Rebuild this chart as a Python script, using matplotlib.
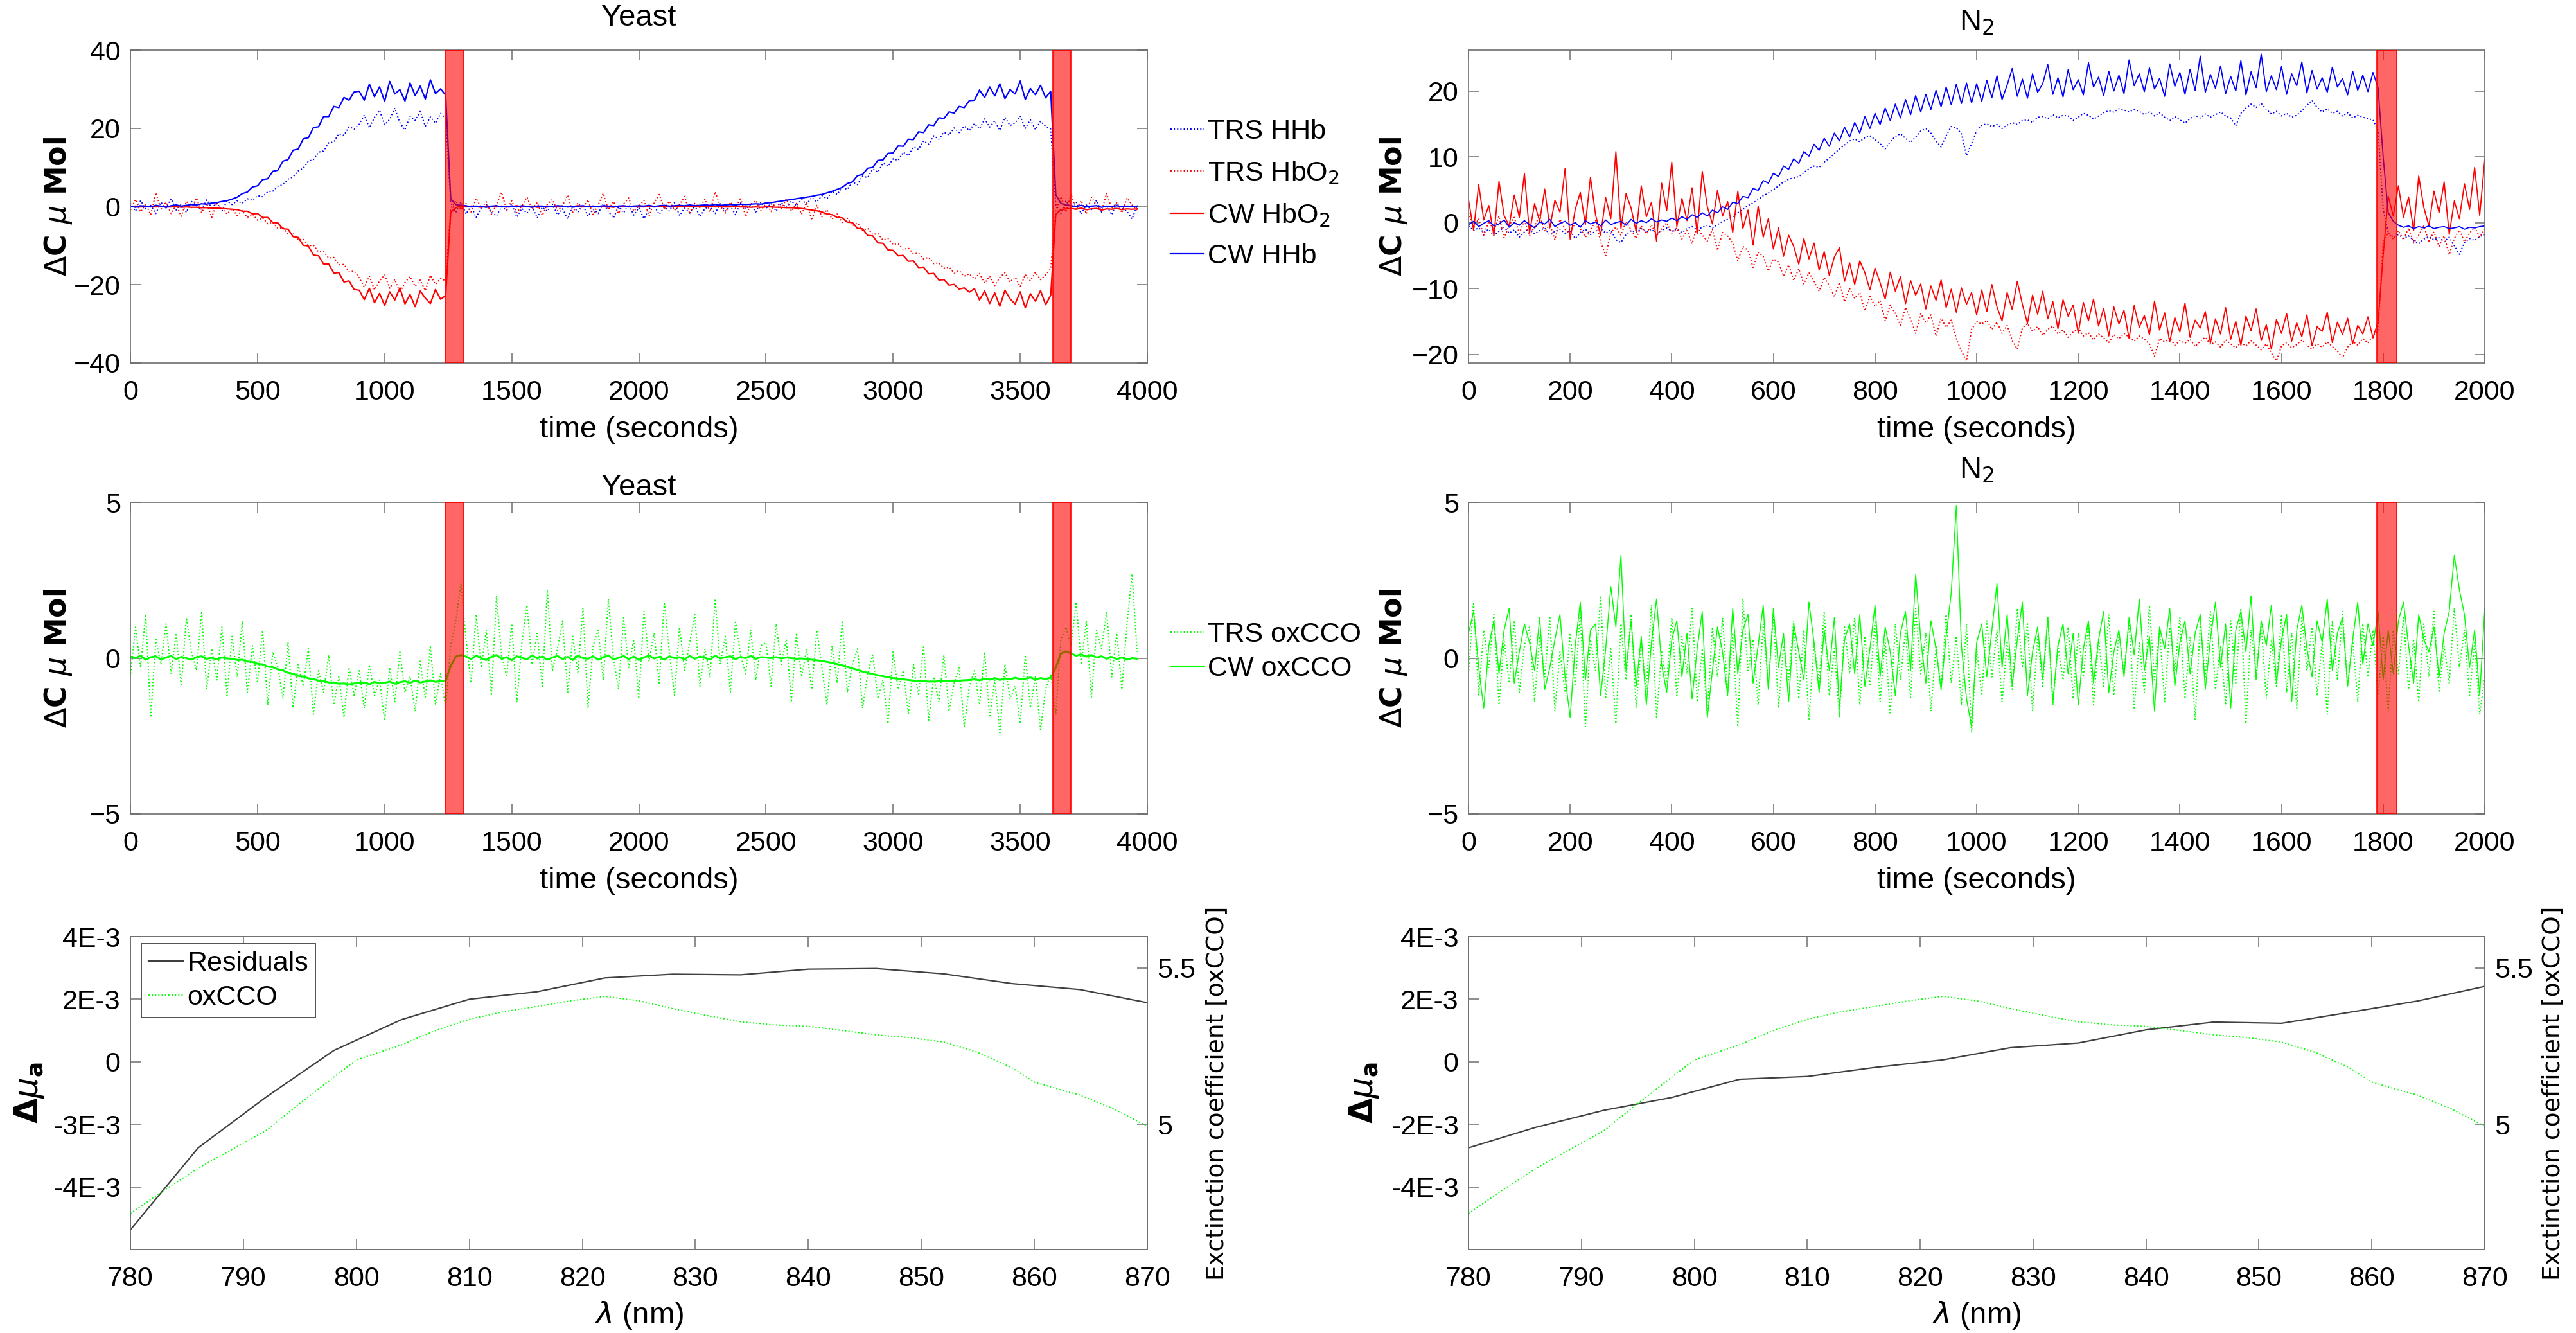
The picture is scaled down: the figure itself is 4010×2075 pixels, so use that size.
import numpy as np
import matplotlib
matplotlib.use("Agg")
import matplotlib.pyplot as plt

plt.rcParams['font.family'] = ['Liberation Sans', 'DejaVu Sans']
plt.rcParams['mathtext.fontset'] = 'dejavusans'

# ---------------- DATA ----------------
# Segments: (start time, values) ; sampling step given per panel
YEAST_DT = 20
YEAST_CW_HHB = [
    (0, [0.1,-0.2,0.2,0.0,-0.1,0.3,0.1,-0.2,0.2,0.4,0.1,0.3,0.5,0.4,0.7,0.6,0.9,1.0,1.3,1.5]),
    (400, [1.9,2.4,3.3,3.7,5.0,5.3,6.9,7.1,9.0,9.3,11.6,12.0,14.4,14.7,17.3,17.6,20.2,20.4,23.0,23.0,25.6,25.3,27.9,27.2,29.3]),
    (900, [29.5,27.2,31.3,28.1,30.6,26.9,32.0,28.8,29.9,27.0,31.6,28.4,30.8,27.5,32.4,28.9,30.1]),
    (1240, [28.5,2.0,0.5,0.3]),
    (1320, [0.2,-0.1,0.1,0.0,-0.2,0.1,0.2,-0.1,0.0,0.1,-0.1,0.2,0.0,-0.2,0.1,0.1,-0.1,0.0,0.2,0.1,-0.1,0.0,0.1,0.2,-0.1,0.1,0.0,0.2,0.1,-0.1,0.1,0.2,0.0,0.1,0.2,0.1,0.3,0.0,0.2,0.3,0.1,0.2,0.3,0.2,0.4,0.2,0.3,0.4,0.3,0.5,0.3,0.4,0.5,0.4,0.6,0.5,0.6,0.7,0.6]),
    (2500, [0.9,1.0,1.2,1.4,1.6,1.8,2.0,2.2,2.4,2.6,2.9,3.1,3.5,3.9,4.4,4.9,5.9,6.3,7.9,8.2,9.8,10.0,11.8,11.9,13.6,13.7,15.5,15.4,17.2,17.1,19.1,18.9,20.9,20.7,22.7,22.5,24.2,23.9,25.6,25.3,27.1]),
    (3320, [27.2,29.8,27.9,30.6,28.3,31.4,27.6,29.9,28.8,32.1,27.4,30.2,28.6,31.0,27.8,29.5]),
    (3640, [3.0,0.8,0.4]),
    (3700, [0.2,0.0,0.3,-0.1,0.1,0.2,-0.2,0.1,0.0,0.2,-0.1,0.1,0.0,0.1]),
]
YEAST_CW_HBO2 = [
    (0, [0.0,0.1,-0.1,0.0,0.1,-0.1,0.0,-0.1,-0.1,0.0,-0.2,-0.1,-0.2,-0.2,-0.3,-0.3,-0.4,-0.4,-0.5,-0.6]),
    (400, [-0.7,-0.8,-1.2,-1.2,-1.9,-1.8,-2.8,-2.8,-4.1,-4.2,-5.7,-5.8,-7.7,-7.9,-9.9,-10.1,-12.4,-12.6,-14.7,-14.7,-17.0,-16.9,-19.3,-19.0,-21.2]),
    (900, [-21.4,-23.8,-20.9,-24.6,-22.2,-25.3,-21.8,-23.9,-20.8,-24.9,-22.5,-25.6,-21.6,-23.4,-24.8,-21.2,-23.7]),
    (1240, [-22.8,-1.5,-0.3,0.1]),
    (1320, [-0.1,0.1,0.0,-0.2,0.1,0.0,-0.1,0.1,-0.1,0.0,0.2,-0.1,0.0,0.1,-0.2,0.0,0.1,-0.1,0.0,0.1,-0.1,0.0,0.2,-0.1,0.0,0.1,-0.1,0.1,0.0,-0.2,0.1,0.0,-0.1,0.1,0.0,-0.1,0.1,-0.1,0.0,0.1,-0.1,0.0,0.1,-0.1,0.0,-0.1,0.1,-0.1,0.0,-0.1,0.0,-0.1,-0.1,0.0,-0.1,-0.1,-0.2,-0.1,-0.2]),
    (2500, [-0.1,-0.1,-0.2,-0.2,-0.3,-0.3,-0.4,-0.5,-0.7,-0.9,-1.1,-1.4,-1.9,-2.1,-2.8,-2.9,-4.0,-4.1,-5.6,-5.7,-7.4,-7.5,-9.3,-9.4,-11.1,-11.2,-12.6,-12.5,-14.0,-13.9,-15.6,-15.5,-17.2,-17.1,-18.8,-18.7,-20.1,-19.9,-21.1,-20.8,-21.9]),
    (3320, [-21.0,-23.9,-21.6,-24.8,-22.1,-25.5,-21.4,-23.6,-24.9,-21.8,-25.9,-22.3,-24.2,-21.5,-25.1,-22.7]),
    (3640, [-2.0,-0.8,-0.6]),
    (3700, [-0.5,-0.7,-0.4,-0.8,-0.6,-0.5,-0.9,-0.6,-0.7,-0.5,-0.8,-0.6,-0.7,-0.6]),
]
YEAST_TRS_HHB = [
    (0, [0.8,-1.2,1.5,-0.6,0.3,-1.8,1.1,-0.4,2.0,-0.9,0.6,-1.5,1.3,0.2,-0.8,1.7,-0.3,0.9,-1.1,1.4]),
    (400, [0.5,1.5,0.8,2.0,1.6,2.8,2.5,3.8,3.9,5.2,5.6,7.0,7.6,9.1,9.8,11.6,12.0,13.9,14.2,16.3,16.5,18.6,18.2,20.4,19.8]),
    (900, [21.0,23.4,20.1,22.8,24.6,20.9,22.3,25.2,21.4,19.6,23.1,22.0,24.3,20.5,22.9,21.3,23.8]),
    (1240, [22.5,1.0,-1.5,1.2]),
    (1320, [-1.9,0.1,-2.8,-0.4,0.5,-1.5,-2.4,0.0,-1.0,0.7,-2.7,-0.5,-1.7,0.3,-3.0,-0.2,-1.2,0.6,-2.1,-0.6,-3.2,0.1,-1.4,0.4,-2.5,-0.7,-1.8,0.8,-1.3,-2.9,-0.1,-1.6,0.5,-2.2,-0.3,-3.1,-0.6,0.2,-2.0,-0.2,-1.1,1.0,-2.3,-0.4,-1.7,0.3,-2.6,-0.5,0.0,-1.8,0.7,-1.2,0.1,-2.1,0.9,-0.6,0.4,-1.4,1.1]),
    (2500, [-0.5,0.8,-1.2,1.0,-0.3,1.4,0.2,1.8,0.6,2.3,1.2,2.8,2.0,3.9,3.1,4.9,4.4,6.3,5.6,7.8,7.4,9.6,8.8,11.1,10.3,12.2,11.8,13.9,13.0,15.2,14.6,16.8,15.9,18.1,17.2,19.0,18.3,20.1,18.9,20.6,19.4]),
    (3320, [21.2,19.8,22.4,20.3,21.9,19.5,22.8,20.7,21.4,23.1,20.0,22.2,19.7,21.8,20.5,19.8]),
    (3640, [0.5,-1.8,1.5]),
    (3700, [-0.6,1.2,-1.9,0.4,-0.8,1.6,-1.4,0.2,-2.1,0.9,-0.5,-1.2,-3.2,0.3]),
]
YEAST_TRS_HBO2 = [
    (0, [-0.9,1.8,-1.4,0.6,-2.1,3.5,-0.7,1.1,-1.8,0.4,-2.5,1.3,-0.3,2.2,-1.6,0.8,-2.8,1.0,-0.5,-1.9]),
    (400, [-0.6,-2.3,-1.0,-2.8,-1.9,-3.5,-2.9,-4.4,-4.0,-5.6,-5.4,-7.0,-6.8,-8.5,-8.3,-10.0,-9.9,-11.6,-11.5,-13.2,-13.0,-14.9,-14.8,-16.7,-16.5]),
    (900, [-18.2,-20.6,-17.8,-21.3,-19.0,-17.5,-20.9,-18.6,-22.0,-19.4,-17.9,-20.4,-18.8,-21.5,-17.6,-19.9,-18.4]),
    (1240, [-19.0,-0.5,1.5,-0.8]),
    (1320, [0.8,-1.4,2.1,-0.3,1.2,-2.0,0.5,3.6,-0.9,1.5,-1.6,0.2,2.4,-0.7,1.0,-2.3,0.6,1.8,-1.1,0.3,2.9,-1.5,0.9,-0.4,1.7,-2.1,0.4,3.4,-0.8,1.3,-1.8,0.7,2.2,-1.2,0.1,1.6,-2.4,0.9,3.1,-0.6,1.4,-1.0,0.5,2.6,-1.9,0.8,-0.3,1.9,-1.4,3.8,0.2,-1.7,1.1,-0.5,2.3,-2.6,0.6,1.5,-1.1]),
    (2500, [0.9,-1.3,1.6,-0.7,2.0,-1.2,0.8,-2.0,1.1,-3.5,0.3,-2.6,-0.8,-3.2,-1.9,-4.1,-3.0,-4.9,-4.2,-6.1,-5.6,-7.2,-6.9,-8.6,-8.2,-9.7,-9.5,-11.0,-10.6,-12.1,-11.9,-13.4,-13.0,-14.6,-14.4,-15.8,-15.5,-17.0,-16.4,-17.8,-17.2]),
    (3320, [-18.5,-17.1,-19.6,-17.8,-20.2,-18.1,-16.9,-19.3,-18.0,-20.5,-17.4,-19.0,-16.8,-18.7,-17.5,-15.9]),
    (3640, [-1.0,2.5,-1.5]),
    (3700, [3.2,-0.8,1.5,-1.9,2.4,0.3,-1.2,3.4,-0.5,1.0,-1.6,2.2,0.4,-0.9]),
]

N2_DT = 10
N2_CW_HHB = [
    (0, [-0.3,0.2,-0.6,-0.1,0.3,-0.5,-0.2,0.4,-0.7,0.0,-0.4,0.3,-0.3,-0.8,0.1,-0.2,0.5,-0.6,-0.1,0.2,-0.4,0.0,-0.7,0.3,-0.2,0.1,-0.5,0.4,-0.3,0.0,0.2,-0.4,0.5,-0.1,0.3,0.0,0.6,0.1,0.4,0.2,0.7]),
    (410, [0.3,0.9,0.5,1.2,0.8,1.5,1.0,1.9,1.5,2.4,2.0,3.1,2.9,4.0,3.8,5.2,4.9,6.4,6.0,7.5,7.0,8.6,8.1,9.7,9.0,10.8,10.1,11.9,11.0,12.8,11.6,13.6,12.4,14.5,13.0,15.2,13.6,16.1,14.3,16.6,14.9,17.4,15.5,18.0,15.9,18.7,16.4,19.3,16.8,19.5,17.2,20.1,17.6,20.6,17.9,21.0,18.1,21.2,18.2,21.1]),
    (1010, [18.4,21.6,19.0,22.3,18.7,20.9,23.4,19.2,21.8,18.9,22.6,19.8,21.1,24.0,19.5,22.0,19.1,23.2,20.2,21.7,19.4,24.3,20.6,22.1,19.3,23.0,20.0,22.4,19.6,24.7,20.8,22.6,19.9,23.5,20.3,21.9,19.2,24.1,20.7,22.8,19.5,23.3,20.1,25.3,19.8,22.5,20.4,23.8,19.6,22.2,20.0,24.6,19.4,22.9,20.5,25.6,19.9,22.3,20.2,23.7,19.5,22.6,20.8,24.4,19.7,23.1,20.3,22.0,19.8,23.6,20.6,21.9,19.4,23.0,20.1,22.4,19.9,22.8]),
    (1790, [20.5,10.0,1.5,0.2]),
    (1830, [-0.4,-0.7,-0.5,-0.9,-0.6,-0.8,-0.5,-0.9,-0.7,-0.6,-0.9,-0.8,-0.6,-1.0,-0.7,-0.8,-0.6,-0.5]),
]
N2_TRS_HHB = [
    (0, [-0.5,-1.2,-0.8,-1.5,-1.0,-2.0,-1.3,-0.7,-1.6,-1.1,-2.2,-1.4,-0.9,-1.7,-1.2,-0.8,-1.9,-1.3,-1.0,-1.6,-1.2,-2.4,-1.5,-1.0,-1.8,-1.3,-0.9,-1.6,-1.1,-2.6,-3.0,-1.8,-1.2,-1.5,-0.9,-1.4,-1.0,-1.7,-1.2,-0.8,-1.3,-1.0,-1.5,-0.9,-0.6,-1.1,-0.7,-0.4,-0.8,-0.3,0.2]),
    (510, [0.5,0.9,1.5,2.0,2.6,3.0,3.5,4.1,4.5,5.0,5.6,6.2,6.6,6.8,7.0,7.6,8.2,8.6,8.4,9.2,9.8,10.5,11.2,11.8,12.4,12.7,12.3,12.9,13.2,12.6,12.0,11.2,12.3,13.1,13.5,12.8,12.2,13.0,13.9,14.3,13.6,12.4,11.5,13.2,14.6,14.4,13.5,10.2,12.0,14.0]),
    (1010, [14.8,15.0,14.6,14.9,14.3,14.8,15.2,14.9,15.5,15.6,15.2,16.0,16.1,15.8,16.4,15.9,16.3,16.2,15.5,16.0,16.6,16.3,15.7,16.2,16.7,17.0,16.8,17.3,17.1,16.8,17.2,16.9,16.4,16.8,16.2,16.7,16.0,15.5,16.1,15.6,15.1,15.8,16.3,15.9,16.5,16.0,16.4,16.8,16.2,15.9,14.7,16.6,17.4,18.0,17.5,18.1,17.2,16.5,16.9,16.2,16.6,16.0,16.3,17.0,17.8,18.6,17.5,16.8,17.3,16.6,16.9,16.2,16.7,15.9,16.3,16.0,15.8,15.6]),
    (1790, [14.0,2.0,-1.5,-2.2]),
    (1830, [-1.8,-2.4,-2.0,-2.7,-3.2,-2.5,-2.1,-2.6,-2.3,-2.9,-2.2,-3.5,-4.8,-3.0,-2.4,-2.7,-2.1,-1.8]),
]
N2_CW_HBO2 = [
    (0, [3.5,-1.2,5.8,0.4,2.6,-2.0,6.3,1.1,-0.5,4.2,0.8,7.5,-1.6,2.9,0.2,5.1,-0.8,3.4,1.6,8.2,-2.5,2.0,4.6,-0.3,6.9,1.2,-1.9,3.8,0.6,10.8,-0.9,4.4,2.2,-1.4,5.6,0.9,3.1,-2.8,6.0,1.8,9.2,-0.6,3.7,0.3,5.3,-1.7,7.8,2.4,-0.2,4.9,1.0]),
    (510, [3.2,-1.5,4.8,-0.9,1.9,-3.4,2.5,-2.2,0.6,-4.0,-0.8,-5.1,-1.9,-3.6,-6.3,-2.4,-5.5,-3.1,-7.2,-4.4,-8.0,-5.2,-3.8,-8.9,-6.1,-9.4,-5.8,-7.6,-10.2,-6.9,-9.1,-11.6,-7.5,-10.4,-8.2,-12.3,-8.8,-11.0,-9.3,-13.1,-9.6,-11.8,-8.7,-12.9,-10.1,-13.6,-9.9,-12.4,-10.6,-14.0]),
    (1010, [-10.2,-13.5,-9.4,-12.8,-14.9,-10.6,-13.2,-8.9,-12.4,-15.3,-11.0,-13.9,-10.4,-14.6,-12.0,-16.1,-11.7,-14.2,-12.5,-16.8,-12.1,-14.9,-11.6,-15.7,-13.0,-17.2,-12.8,-15.4,-13.3,-17.6,-12.6,-15.9,-14.1,-17.0,-11.9,-16.3,-13.7,-18.1,-14.4,-16.6,-12.2,-17.4,-14.8,-16.0,-13.5,-18.3,-14.6,-16.9,-12.9,-17.7,-15.0,-18.6,-14.2,-16.4,-13.1,-17.9,-15.5,-19.2,-14.7,-16.8,-13.8,-18.0,-15.2,-17.3,-14.0,-18.7,-15.8,-16.5,-13.6,-18.2,-15.1,-17.0,-14.5,-18.4,-15.6,-16.9,-14.3,-17.5]),
    (1790, [-15.0,-5.0,4.0,1.0]),
    (1830, [5.6,0.8,3.9,-1.2,7.1,2.3,-0.5,4.8,1.5,6.2,-1.8,3.3,0.6,5.9,2.0,8.4,1.1,9.6]),
]
N2_TRS_HBO2 = [
    (0, [1.5,-0.8,0.6,-1.9,0.2,-1.2,1.0,-2.3,-0.4,0.8,-1.6,0.3,-2.0,-0.6,1.2,-1.4,-0.2,-2.6,0.5,-1.0,-1.8,0.1,-0.9,-2.2,-1.3,0.4,-2.9,-5.0,-1.5,-0.7,-1.9,0.2,-1.1,-2.4,-0.5,-1.7,-0.3,-2.0,-1.0,0.0,-1.6,-0.8,-2.5,-1.2,-3.2,-0.6,-1.9,-2.8,-1.0,-4.2,-1.5]),
    (510, [-2.0,-3.1,-5.8,-3.6,-4.2,-6.8,-4.5,-5.1,-7.3,-5.5,-6.0,-8.1,-6.4,-8.8,-7.0,-9.3,-7.6,-8.9,-10.4,-8.3,-9.6,-11.2,-9.1,-12.0,-10.0,-11.5,-10.6,-13.4,-11.2,-12.7,-11.8,-14.9,-12.5,-13.8,-15.6,-12.9,-14.6,-16.8,-13.8,-15.2,-14.0,-17.2,-14.5,-15.9,-14.8,-17.6,-19.5,-21.0,-16.2,-15.0]),
    (1010, [-15.4,-14.8,-16.2,-15.1,-16.8,-15.6,-17.9,-19.2,-16.0,-15.3,-16.5,-15.8,-17.1,-16.2,-15.7,-16.9,-16.3,-17.4,-16.6,-16.0,-17.2,-16.7,-17.8,-16.9,-17.5,-18.2,-17.0,-17.6,-16.8,-17.4,-18.0,-17.2,-17.7,-18.4,-20.3,-17.6,-18.1,-17.5,-18.6,-17.9,-18.3,-17.7,-18.8,-18.0,-17.4,-18.5,-18.1,-18.9,-17.8,-18.4,-19.0,-18.2,-18.7,-17.9,-18.6,-19.3,-18.4,-19.8,-21.0,-18.7,-18.2,-19.0,-18.5,-17.8,-18.6,-19.2,-18.4,-18.9,-18.1,-18.8,-19.5,-20.5,-18.9,-18.0,-18.6,-17.6,-18.3,-17.2]),
    (1790, [-16.5,-3.0,-1.5,-2.5]),
    (1830, [-1.2,-2.6,-0.8,-3.1,-1.9,-0.5,-2.8,-1.4,-3.6,-2.0,-4.9,-2.4,-1.1,-2.9,-1.6,-0.7,-2.2,-1.0]),
]

YEAST_CW_OX = [
    (0, [0.05,0.0,0.08,-0.05,0.03,0.06,-0.04,0.02,0.07,-0.03,0.04,0.0,-0.05,0.03,0.06,-0.02,0.01,-0.04,0.02,-0.01]),
    (400, [-0.02,-0.06,-0.05,-0.11,-0.12,-0.18,-0.20,-0.27,-0.29,-0.36,-0.39,-0.47,-0.50,-0.57,-0.59,-0.65,-0.67,-0.72,-0.73,-0.78,-0.78,-0.82,-0.81,-0.84,-0.81]),
    (900, [-0.80,-0.78,-0.84,-0.76,-0.81,-0.79,-0.75,-0.82,-0.77,-0.74,-0.79,-0.72,-0.78,-0.75,-0.71,-0.76,-0.73]),
    (1240, [-0.72,-0.25,0.05,0.1]),
    (1320, [0.05,-0.03,0.08,0.0,-0.06,0.04,0.1,-0.02,0.03,-0.07,0.06,0.01,-0.04,0.09,-0.01,0.05,-0.05,0.02,0.07,-0.03,0.04,-0.06,0.08,0.0,-0.02,0.06,-0.05,0.03,0.09,-0.04,0.01,0.07,-0.03,0.05,-0.06,0.02,0.08,-0.01,0.04,-0.05,0.06,0.0,0.03,-0.04,0.07,-0.02,0.05,0.01,-0.05,0.08,-0.01,0.03,0.06,-0.03,0.04,0.0,0.07,-0.02,0.03]),
    (2500, [0.02,0.0,0.03,-0.01,0.02,0.0,-0.02,-0.01,-0.03,-0.05,-0.07,-0.09,-0.12,-0.15,-0.19,-0.23,-0.28,-0.33,-0.38,-0.43,-0.47,-0.51,-0.55,-0.58,-0.61,-0.64,-0.66,-0.68,-0.70,-0.72,-0.73,-0.74,-0.75,-0.75,-0.74,-0.74,-0.73,-0.72,-0.72,-0.71,-0.70]),
    (3320, [-0.68,-0.71,-0.66,-0.69,-0.64,-0.70,-0.65,-0.68,-0.63,-0.67,-0.66,-0.62,-0.68,-0.64,-0.67,-0.63]),
    (3640, [-0.3,0.15,0.22]),
    (3700, [0.15,0.08,0.12,0.05,0.1,0.02,0.06,-0.02,0.04,-0.03,0.02,-0.05,0.0,-0.02]),
]
YEAST_TRS_OX = [
    (0, [-0.6,1.0,-0.3,1.4,-1.9,0.6,-0.2,1.1,-0.5,0.8,-0.9,1.3,0.2,-0.4,1.5,-1.0,0.3,-0.7,1.0,-1.2]),
    (400, [0.7,-0.6,1.2,-1.1,0.4,-0.8,0.9,-1.5,0.2,-0.3,-1.3,0.5,-1.6,-0.2,-0.9,0.3,-1.8,-0.4,-1.1,0.1,-1.5,-0.6,-1.9,-0.3,-1.2]),
    (900, [-0.4,-1.6,-0.2,-1.2,-0.7,-2.0,-0.3,-1.4,0.2,-1.1,-0.6,-1.7,-0.1,-1.3,0.4,-1.5,-0.5]),
    (1240, [-1.6,0.4,1.2,2.4]),
    (1320, [0.6,-0.8,1.4,-0.3,0.9,-1.2,2.0,0.1,-0.6,1.1,-1.4,0.5,1.7,-0.2,0.8,-0.9,2.2,-0.4,0.3,1.2,-1.1,0.7,-0.5,1.6,-1.6,0.4,0.9,-0.7,1.9,0.0,-1.0,1.3,-0.3,0.6,-1.3,1.5,-0.1,0.8,-0.8,1.8,0.2,-1.2,1.0,-0.4,0.5,1.4,-0.9,0.3,-0.6,1.9,-0.2,0.7,-1.1,1.2,0.1,-0.5,0.9,-0.7,0.4]),
    (2500, [0.5,-0.9,1.1,-0.2,0.6,-1.4,0.8,-0.6,0.3,-1.0,0.9,-0.3,-1.5,0.4,-0.8,1.2,-1.1,-0.2,0.3,-1.6,-0.5,0.1,-1.3,-0.7,-2.1,0.2,-1.0,-0.4,-1.8,-0.2,-1.2,0.4,-2.0,-0.6,-1.4,0.1,-1.7,-0.8,-0.3,-2.2,-0.9]),
    (3320, [-0.4,-1.5,0.2,-1.9,-0.7,-2.4,-0.2,-1.3,-0.9,-2.1,0.1,-1.6,-0.6,-2.3,-1.0,-0.5]),
    (3640, [-1.8,0.6,1.0]),
    (3700, [0.4,1.8,-0.2,1.2,-1.3,0.9,0.3,1.5,-0.6,0.8,-1.0,1.1,2.7,0.2]),
]

N2_CW_OX = [
    (0, [0.8,1.5,-0.3,-1.6,0.4,1.2,-0.5,0.9,1.6,-0.8,0.2,1.1,0.5,-0.4,1.3,-1.0,-0.3,0.6,1.4,-0.6,-1.9]),
    (210, [0.4,1.8,-0.7,0.9,1.1,-1.2,0.3,2.3,1.0,3.3,-0.4,1.2,-0.9,0.7,-1.5,0.5,1.9,-0.2,-1.1,0.6]),
    (410, [1.2,-0.6,0.8,-1.3,0.3,1.5,-1.9,-0.4,1.0,0.2,-1.2,1.6,-0.5,0.9,1.4,-0.8,0.4,1.7,-1.0,1.6]),
    (610, [-0.3,0.8,-1.4,1.1,0.2,-0.7,1.8,0.5,-1.1,0.9,-0.4,1.3,-1.6,0.6,1.1,-0.5,1.4,-0.9,0.3,1.7]),
    (810, [-0.6,1.0,0.2,-1.2,0.8,1.5,-0.4,2.7,0.6,-0.8,1.2,0.3,-1.0,0.7,2.1,4.9,0.4,-1.3,-2.2,0.5]),
    (1010, [1.1,-0.6,0.9,2.4,-0.3,1.4,-0.9,0.6,1.8,-1.2,0.2,1.0,-0.7,1.3,-1.4,0.4,1.1,-0.5,0.8,-1.5]),
    (1210, [0.3,1.2,-0.8,0.6,1.5,-1.1,0.2,0.9,-0.6,1.3,0.1,1.9,-0.4,0.7,-1.7,1.0,0.3,1.6,-0.9,0.5]),
    (1410, [1.2,-0.5,0.8,1.4,-1.0,0.6,1.8,-0.3,1.1,-1.6,0.9,1.5,0.2,2.0,-0.7,1.2,0.4,1.7,-0.8,0.6]),
    (1610, [1.4,-1.4,0.9,1.7,0.3,-0.6,1.2,0.5,1.9,-0.4,0.8,1.3,-0.9,0.6,1.8,-0.2,1.1,0.4,1.5,-0.7]),
    (1810, [0.9,-0.5,1.2,1.8,0.4,-0.8,1.4,0.6,0.2,1.0,-0.6,0.8,1.5,3.3,2.2,1.4,-0.3,0.9,-1.2,1.6]),
]
N2_TRS_OX = [
    (0, [-0.5,1.8,-1.2,0.9,-0.3,1.4,-1.5,0.6,-0.8,1.2,-1.1,0.4,1.0,-1.4,0.7,-0.6,1.3,-1.7,0.2,-1.1,0.8]),
    (210, [-0.9,1.5,-2.2,0.6,-0.4,2.0,-1.3,0.3,-2.1,1.1,-0.7,1.4,-1.6,0.5,-1.0,1.7,-1.9,0.2,-0.8,1.3]),
    (410, [-1.2,0.7,-0.5,1.6,-1.4,0.3,-1.8,1.0,-0.6,1.3,-1.1,0.8,-2.2,1.9,-0.4,0.6,-1.5,1.1,-0.9,1.4]),
    (610, [-1.6,0.4,-0.7,1.2,-1.3,0.9,-2.0,0.5,-0.8,1.5,-1.2,0.3,-1.9,1.0,-0.5,1.3,-1.5,0.7,-0.9,1.2]),
    (810, [-1.4,0.6,-1.8,1.1,-0.7,0.9,-1.3,1.6,-0.5,0.8,-1.7,0.4,-1.0,1.4,-0.8,0.7,-1.5,1.1,-2.4,0.3]),
    (1010, [-1.2,1.2,-0.6,0.9,-1.4,0.5,-1.0,1.6,-0.3,1.1,-1.7,0.7,-0.9,1.3,-1.5,0.4,-0.7,1.0,-1.3,0.8]),
    (1210, [-0.6,1.1,-1.5,0.6,-0.9,1.4,-1.2,0.8,-0.5,1.2,-1.6,0.5,-1.1,1.7,-0.7,0.9,-1.4,1.0,-0.4,1.3]),
    (1410, [-1.3,0.7,-2.0,1.1,-0.6,1.5,-1.0,0.4,-1.5,1.2,-0.8,1.6,-2.1,0.9,-0.5,1.1,-1.3,0.6,-0.9,1.4]),
    (1610, [-1.1,0.8,-1.6,1.3,-0.4,1.0,-1.2,0.5,-1.8,1.2,-0.7,1.5,-0.9,0.6,-1.4,1.1,-0.6,0.9,-1.2,0.7]),
    (1810, [-1.7,0.9,-0.5,1.3,-1.0,0.6,-1.4,1.1,-0.6,1.5,-1.1,0.4,-0.8,1.6,-0.3,0.9,-1.2,0.5,-1.8,-0.6]),
]

# spectra
WL_RES = [780,786,792,798,804,810,816,822,828,834,840,846,852,858,864,870]
RES_YEAST = [-5.37e-3,-2.75e-3,-1.13e-3,0.36e-3,1.35e-3,2.00e-3,2.24e-3,2.68e-3,2.80e-3,2.78e-3,2.96e-3,2.98e-3,2.81e-3,2.50e-3,2.31e-3,1.89e-3]
RES_N2 = [-2.75e-3,-2.09e-3,-1.55e-3,-1.14e-3,-0.56e-3,-0.47e-3,-0.18e-3,0.06e-3,0.45e-3,0.60e-3,1.02e-3,1.27e-3,1.23e-3,1.58e-3,1.94e-3,2.41e-3]
WL_EXT = [780,783,786,789,792,795,798,800,802,804,807,810,813,816,819,822,825,828,831,834,837,840,843,846,849,852,855,858,860,862,864,867,870]
EXT_OXCCO = [4.715,4.79,4.86,4.92,4.98,5.067,5.151,5.206,5.23,5.254,5.30,5.336,5.36,5.377,5.395,5.409,5.395,5.370,5.348,5.328,5.318,5.313,5.30,5.286,5.277,5.263,5.23,5.181,5.135,5.114,5.094,5.05,4.994]

YEAST_SPANS = [(1238, 1312), (3628, 3700)]
N2_SPANS = [(1788, 1827)]

LEFT_TICKLABELS_YEAST = ['-4E-3', '-3E-3', '0', '2E-3', '4E-3']
LEFT_TICKLABELS_N2 = ['-4E-3', '-2E-3', '0', '2E-3', '4E-3']
LEFT_TICKS = [-4e-3, -2e-3, 0, 2e-3, 4e-3]

# ---------------- STYLE ----------------
BLUE = '#0000ff'; RED = '#ff0000'; GREEN = '#00ff00'; GREY = '#404040'
SPINE = '#6e6e6e'
TICK_FS = 31; LAB_FS = 34; TITLE_FS = 34; LEG_FS = 31
XLPAD = 11

def expand(segs, dt):
    ts, vs = [], []
    for start, vals in segs:
        ts.extend(start + dt * np.arange(len(vals)))
        vs.extend(vals)
    return np.array(ts, float), np.array(vs, float)

W, H = 4010, 2075
fig = plt.figure(figsize=(W / 100, H / 100), dpi=100)

def make_ax(x0, y0, x1, y1):
    return fig.add_axes([x0 / W, 1 - y1 / H, (x1 - x0) / W, (y1 - y0) / H])

def style(ax):
    for s in ax.spines.values():
        s.set_color(SPINE); s.set_linewidth(1.2)
    ax.tick_params(direction='in', length=11.5, width=1.1, color=SPINE,
                   labelsize=TICK_FS, top=True, right=True, pad=11)
    ax.tick_params(axis='x', pad=19)

def ylabel_conc(ax, xfrac):
    ax.set_ylabel(r'$\Delta$C $\mu$ Mol', fontsize=33, fontweight='bold', family='DejaVu Sans')
    ax.yaxis.set_label_coords(xfrac, 0.5)

def spans(ax, sp):
    for a, b in sp:
        ax.axvspan(a, b, facecolor=(1, 0, 0, 0.6), edgecolor='red', linewidth=1.2, zorder=5)

LX0, LX1 = 203, 1786
RX0, RX1 = 2286, 3868
ROWS = [(78, 565), (782, 1267), (1458, 1945)]

# ---- top-left
ax = make_ax(LX0, ROWS[0][0], LX1, ROWS[0][1]); style(ax)
t, v = expand(YEAST_TRS_HHB, YEAST_DT); h1, = ax.plot(t, v, ':', color=BLUE, lw=1.4)
t, v = expand(YEAST_TRS_HBO2, YEAST_DT); h2, = ax.plot(t, v, ':', color=RED, lw=1.4)
t, v = expand(YEAST_CW_HBO2, YEAST_DT); h3, = ax.plot(t, v, '-', color=RED, lw=1.6)
t, v = expand(YEAST_CW_HHB, YEAST_DT); h4, = ax.plot(t, v, '-', color=BLUE, lw=1.6)
spans(ax, YEAST_SPANS)
ax.set_xlim(0, 4000); ax.set_ylim(-40, 40)
ax.set_xticks(np.arange(0, 4001, 500)); ax.set_yticks([-40, -20, 0, 20, 40])
ax.set_title('Yeast', fontsize=TITLE_FS, pad=27)
ax.set_xlabel('time (seconds)', fontsize=LAB_FS, labelpad=XLPAD)
ylabel_conc(ax, -0.0556)
ax.legend([h1, h2, h3, h4], ['TRS HHb', 'TRS HbO$_2$', 'CW HbO$_2$', 'CW HHb'],
          loc='center left', bbox_to_anchor=(1.012, 0.54), frameon=False, fontsize=LEG_FS,
          handlelength=1.2, handletextpad=0.15, labelspacing=0.55, borderaxespad=0)

# ---- top-right
ax = make_ax(RX0, ROWS[0][0], RX1, ROWS[0][1]); style(ax)
t, v = expand(N2_TRS_HHB, N2_DT); ax.plot(t, v, ':', color=BLUE, lw=1.4)
t, v = expand(N2_TRS_HBO2, N2_DT); ax.plot(t, v, ':', color=RED, lw=1.4)
t, v = expand(N2_CW_HBO2, N2_DT); ax.plot(t, v, '-', color=RED, lw=1.3)
t, v = expand(N2_CW_HHB, N2_DT); ax.plot(t, v, '-', color=BLUE, lw=1.3)
spans(ax, N2_SPANS)
ax.set_xlim(0, 2000); ax.set_ylim(-21.3, 26.2)
ax.set_xticks(np.arange(0, 2001, 200)); ax.set_yticks([-20, -10, 0, 10, 20])
ax.set_title('N$_2$', fontsize=TITLE_FS, pad=22)
ax.set_xlabel('time (seconds)', fontsize=LAB_FS, labelpad=XLPAD)
ylabel_conc(ax, -0.058)

# ---- mid-left
ax = make_ax(LX0, ROWS[1][0], LX1, ROWS[1][1]); style(ax)
t, v = expand(YEAST_TRS_OX, YEAST_DT); g1, = ax.plot(t, v, ':', color=GREEN, lw=1.4)
t, v = expand(YEAST_CW_OX, YEAST_DT); g2, = ax.plot(t, v, '-', color=GREEN, lw=2.2)
spans(ax, YEAST_SPANS)
ax.set_xlim(0, 4000); ax.set_ylim(-5, 5)
ax.set_xticks(np.arange(0, 4001, 500)); ax.set_yticks([-5, 0, 5])
ax.set_title('Yeast', fontsize=TITLE_FS, pad=8)
ax.set_xlabel('time (seconds)', fontsize=LAB_FS, labelpad=XLPAD)
ylabel_conc(ax, -0.0556)
ax.legend([g1, g2], ['TRS oxCCO', 'CW oxCCO'],
          loc='center left', bbox_to_anchor=(1.012, 0.52), frameon=False, fontsize=LEG_FS,
          handlelength=1.2, handletextpad=0.15, labelspacing=0.3, borderaxespad=0)

# ---- mid-right
ax = make_ax(RX0, ROWS[1][0], RX1, ROWS[1][1]); style(ax)
t, v = expand(N2_TRS_OX, N2_DT); ax.plot(t, v, ':', color=GREEN, lw=1.4)
t, v = expand(N2_CW_OX, N2_DT); ax.plot(t, v, '-', color=GREEN, lw=1.1)
spans(ax, N2_SPANS)
ax.set_xlim(0, 2000); ax.set_ylim(-5, 5)
ax.set_xticks(np.arange(0, 2001, 200)); ax.set_yticks([-5, 0, 5])
ax.set_title('N$_2$', fontsize=TITLE_FS, pad=27)
ax.set_xlabel('time (seconds)', fontsize=LAB_FS, labelpad=XLPAD)
ylabel_conc(ax, -0.058)

# ---- bottom panels
def spectrum(x0, x1, res, labels, lab_left, lab_right, legend):
    ax = make_ax(x0, ROWS[2][0], x1, ROWS[2][1]); style(ax)
    hr, = ax.plot(WL_RES, res, '-', color=GREY, lw=1.6)
    ax.set_xlim(780, 870); ax.set_ylim(-6e-3, 4e-3)
    ax.set_xticks(np.arange(780, 871, 10))
    ax.set_yticks(LEFT_TICKS, labels)
    ax.set_xlabel(r'$\lambda$ (nm)', fontsize=LAB_FS, labelpad=XLPAD - 3)
    ax.set_ylabel(r'$\mathbf{\Delta}\mu_{\mathbf{a}}$', fontsize=37, family='DejaVu Sans')
    ax.yaxis.set_label_coords(lab_left, 0.5)
    ax2 = ax.twinx()
    he, = ax2.plot(WL_EXT, EXT_OXCCO, ':', color=GREEN, lw=1.4)
    ax2.set_ylim(4.6, 5.6); ax2.set_yticks([5, 5.5], ['5', '5.5'])
    for s in ax2.spines.values():
        s.set_color(SPINE); s.set_linewidth(1.2)
    ax2.tick_params(direction='in', length=11.5, width=1.1, color=SPINE, labelsize=TICK_FS, pad=11)
    ax2.set_ylabel('Exctinction coefficient [oxCCO]', fontsize=27, family='DejaVu Sans')
    ax2.yaxis.set_label_coords(lab_right, 0.5)
    if legend:
        leg = ax2.legend([hr, he], ['Residuals', 'oxCCO'], loc='upper left',
                         bbox_to_anchor=(0.011, 0.977), fontsize=LEG_FS, fancybox=False,
                         framealpha=1, edgecolor='#333333', handlelength=1.25,
                         handletextpad=0.15, labelspacing=0.3, borderaxespad=0, borderpad=0.25)
        leg.get_frame().set_linewidth(1.2)

spectrum(LX0, LX1, RES_YEAST, LEFT_TICKLABELS_YEAST, -0.083, 1.057, True)
spectrum(RX0, RX1, RES_N2, LEFT_TICKLABELS_N2, -0.086, 1.0556, False)

fig.savefig('out.png', dpi=100)
